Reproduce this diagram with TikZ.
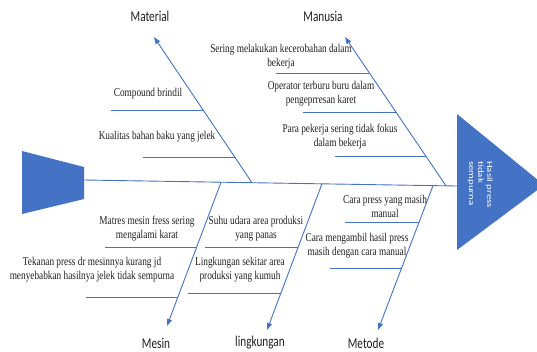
\documentclass[tikz,border=0pt]{standalone}
\usepackage{fontspec}
\setmainfont[FakeStretch=0.78]{Liberation Serif}
\newfontfamily\labelfamily[FakeStretch=0.75]{Carlito}
\newfontfamily\effectfamily{Carlito}
\usetikzlibrary{arrows.meta, calc}
\definecolor{FBblue}{HTML}{4472C4}
\definecolor{FBdark}{HTML}{1F1F1F}
\newcommand{\causefont}{\fontsize{11.9}{14}\selectfont}
\newcommand{\catfont}{\labelfamily\fontsize{15}{18}\selectfont}
\newcommand{\headfont}{\effectfamily\fontsize{10.8}{12}\selectfont}

\begin{document}
\begin{tikzpicture}[x=1pt, y=-1pt, >={Triangle[length=7pt, width=5pt]}, font=\causefont,
    bone/.style={FBblue, line width=0.9pt},
    cause/.style={align=center, inner sep=0pt, text=FBdark},
    category/.style={font=\catfont, inner sep=0pt, text=FBdark}]
    \useasboundingbox (0,0) rectangle (537,351);
    % tail and head of the fish
    \fill[FBblue] (22,151) -- (84,167) -- (84,199) -- (22,214) -- cycle;
    \fill[FBblue] (457,114) -- (544,185) -- (457,250) -- cycle;
    \node[font=\headfont, text=white, rotate=-90, yscale=0.75, anchor=north west,
          align=left, inner sep=0pt] (effect) at (493,161) {Hasil press\\tidak\\sempurna};
    % spine
    \coordinate (tail) at (84,180);
    \coordinate (head) at (457,186);
    \draw[bone] (tail) -- (head);
    % Material
    \coordinate (matS) at (252,182.7);
    \coordinate (matT) at (154,37);
    \draw[bone, ->] (matS) -- (matT);
    \node[category] (material) at (150,16) {Material};
    \coordinate (mat1) at ($(matS)!0.499!(matT)$);
    \coordinate (mat1e) at ($(mat1)+(-92,0)$);
    \coordinate (mat2) at ($(matS)!0.176!(matT)$);
    \coordinate (mat2e) at ($(mat2)+(-92,0)$);
    \draw[bone] (mat1) -- (mat1e);
    \draw[bone] (mat2) -- (mat2e);
    \node[cause] (compound) at (148,94) {Compound brindil};
    \node[cause] (kualitas) at (157,137) {Kualitas bahan baku yang jelek};
    % Manusia
    \coordinate (manS) at (446,185.8);
    \coordinate (manT) at (345,37);
    \draw[bone, ->] (manS) -- (manT);
    \node[category] (manusia) at (323,16) {Manusia};
    \coordinate (man1) at ($(manS)!0.758!(manT)$);
    \coordinate (man1e) at ($(man1)+(-93,0)$);
    \coordinate (man2) at ($(manS)!0.496!(manT)$);
    \coordinate (man2e) at ($(man2)+(-93,0)$);
    \coordinate (man3) at ($(manS)!0.194!(manT)$);
    \coordinate (man3e) at ($(man3)+(-91,0)$);
    \draw[bone] (man1) -- (man1e);
    \draw[bone] (man2) -- (man2e);
    \draw[bone] (man3) -- (man3e);
    \node[cause] (ceroboh) at (281,57) {Sering melakukan kecerobahan dalam\\bekerja};
    \node[cause] (terburu) at (321,94) {Operator terburu buru dalam\\pengeprresan karet};
    \node[cause] (fokus) at (340,137) {Para pekerja sering tidak fokus\\dalam bekerja};
    % Mesin
    \coordinate (mesS) at (221,182.3);
    \coordinate (mesT) at (167,326);
    \draw[bone, ->] (mesS) -- (mesT);
    \node[category] (mesin) at (156,343) {Mesin};
    \coordinate (mes1) at ($(mesS)!0.451!(mesT)$);
    \coordinate (mes1e) at ($(mes1)+(-92,0)$);
    \coordinate (mes2) at ($(mesS)!0.798!(mesT)$);
    \coordinate (mes2e) at ($(mes2)+(-92,0)$);
    \draw[bone] (mes1) -- (mes1e);
    \draw[bone] (mes2) -- (mes2e);
    \node[cause] (matres) at (147,229) {Matres mesin fress sering\\mengalami karat};
    \node[cause] (tekanan) at (92,270) {Tekanan press dr mesinnya kurang jd\\menyebabkan hasilnya jelek tidak sempurna};
    % lingkungan
    \coordinate (linS) at (322,183.8);
    \coordinate (linT) at (267,330);
    \draw[bone, ->] (linS) -- (linT);
    \node[category] (lingkungan) at (260,343) {lingkungan};
    \coordinate (lin1) at ($(linS)!0.432!(linT)$);
    \coordinate (lin1e) at ($(lin1)+(-93,0)$);
    \coordinate (lin2) at ($(linS)!0.747!(linT)$);
    \coordinate (lin2e) at ($(lin2)+(-93,0)$);
    \draw[bone] (lin1) -- (lin1e);
    \draw[bone] (lin2) -- (lin2e);
    \node[cause] (suhu) at (256,229) {Suhu udara area produksi\\yang panas};
    \node[cause] (kumuh) at (240,270) {Lingkungan sekitar area\\produksi yang kumuh};
    % Metode
    \coordinate (metS) at (433,185.6);
    \coordinate (metT) at (378,330);
    \draw[bone, ->] (metS) -- (metT);
    \node[category] (metode) at (366,343) {Metode};
    \coordinate (met1) at ($(metS)!0.252!(metT)$);
    \coordinate (met1e) at ($(met1)+(-74,0)$);
    \coordinate (met2) at ($(metS)!0.571!(metT)$);
    \coordinate (met2e) at ($(met2)+(-72,0)$);
    \draw[bone] (met1) -- (met1e);
    \draw[bone] (met2) -- (met2e);
    \node[cause] (manual) at (385,206) {Cara press yang masih\\manual};
    \node[cause] (ambil) at (357,246) {Cara mengambil hasil press\\masih dengan cara manual};
\end{tikzpicture}
\end{document}
